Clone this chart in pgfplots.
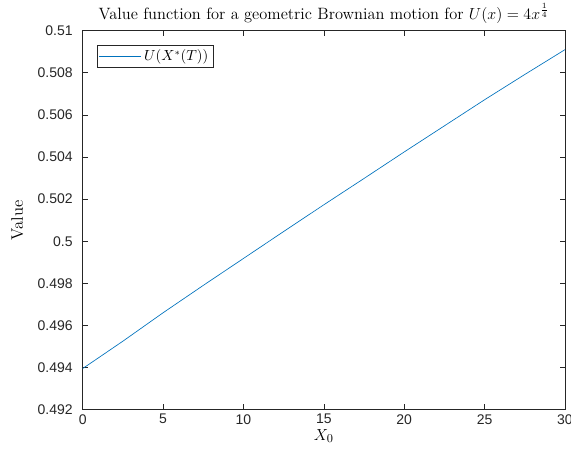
\documentclass[border=0pt]{standalone}
\usepackage{fontspec}
\setsansfont{Liberation Sans}
\usepackage{pgfplots}
\pgfplotsset{compat=1.18}
\definecolor{mblue}{rgb}{0,0.447,0.741}
\definecolor{axgray}{gray}{0.15}
\begin{document}
\begin{tikzpicture}
\begin{axis}[
    width=361.5pt, height=284pt,
    scale only axis,
    xmin=0, xmax=30,
    ymin=0.492, ymax=0.51,
    xtick={0,5,...,30},
    ytick={0.492,0.494,0.496,0.498,0.5,0.502,0.504,0.506,0.508,0.51},
    scaled y ticks=false,
    yticklabel style={/pgf/number format/fixed, /pgf/number format/precision=3, xshift=-4pt},
    /pgf/number format/assume math mode=true,
    ticklabel style={font=\sffamily\fontsize{10.5}{12}\selectfont, text=axgray},
    tick align=inside,
    major tick length=4pt,
    axis line style={axgray, line width=0.5pt},
    tick style={axgray, line width=0.5pt},
    title={Value function for a geometric Brownian motion for $U(x)=4x^{\frac{1}{4}}$},
    title style={font=\fontsize{12.3}{14}\selectfont, yshift=-4pt},
    xlabel={$X_0$},
    ylabel={Value},
    label style={font=\fontsize{12.5}{14}\selectfont},
    xlabel style={yshift=3pt},
    ylabel style={yshift=4pt},
    legend style={at={(0.029,0.963)}, anchor=north west, draw=axgray,
        font=\fontsize{10.5}{12}\selectfont, inner sep=1.5pt},
    legend cell align=left,
    legend image code/.code={\draw[draw=mblue, line width=0.5pt] (0cm,0cm) -- (1.1cm,0cm);},
]
\addplot[mblue, line width=0.5pt] coordinates {
    (0,0.49395) (2.5,0.49525) (5,0.49660) (7.5,0.49790) (10,0.49918)
    (12.5,0.50046) (15,0.50173) (17.5,0.50298) (20,0.50424)
    (22.5,0.50548) (25,0.50672) (27.5,0.50792) (30,0.50910)
};
\legend{$U(X^{*}(T))$}
\end{axis}
\pgfresetboundingbox
\useasboundingbox ([xshift=-62pt, yshift=-34pt]current axis.south west)
    rectangle ([xshift=4.5pt, yshift=23pt]current axis.north east);
\end{tikzpicture}
\end{document}
